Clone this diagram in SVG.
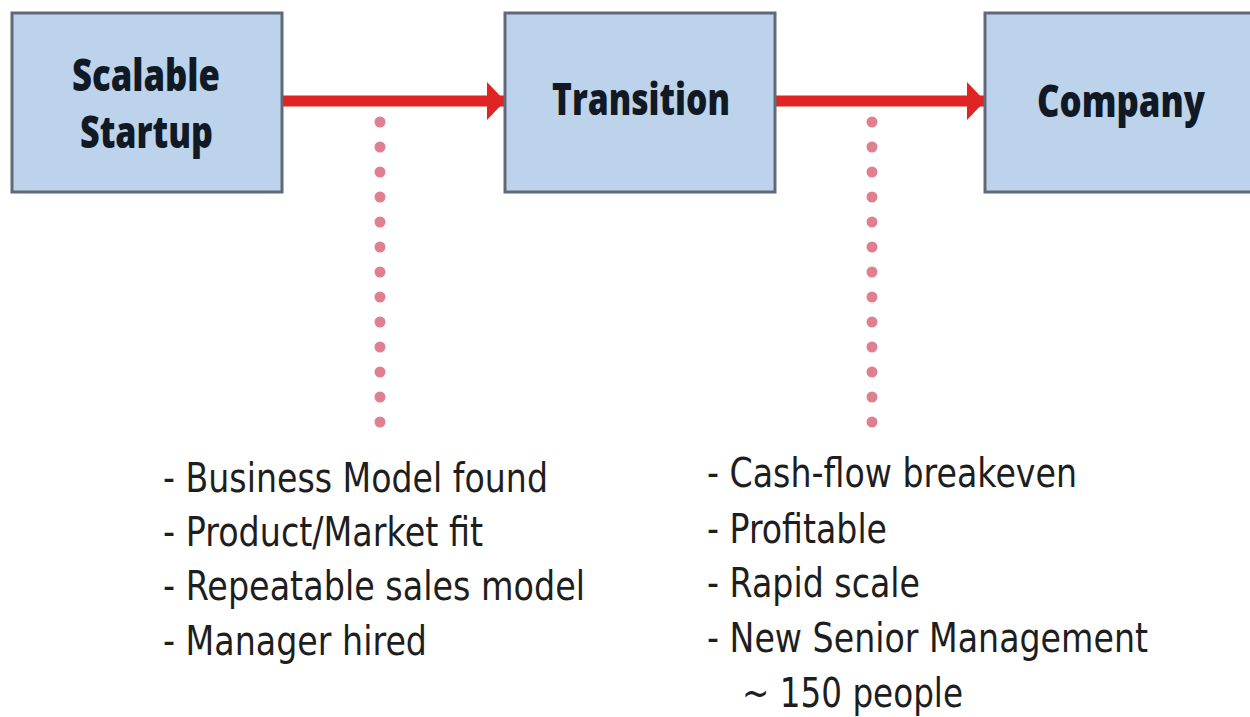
<svg xmlns="http://www.w3.org/2000/svg" width="1250" height="717" viewBox="0 0 1250 717">
<style>
.box{fill:#bdd3ec;stroke:#5e6a78;stroke-width:3}
.lbl{font-family:"Open Sans","Liberation Sans",sans-serif;font-weight:800;font-size:44px;fill:#111a24}
.bul{font-family:"DejaVu Sans","Liberation Sans",sans-serif;font-size:41px;fill:#1e1e1e}
.arr{stroke:#e02323;stroke-width:11;fill:none}
.dot{stroke:#e07f90;stroke-width:11;stroke-linecap:round;stroke-dasharray:0 25;fill:none}
</style>
<defs>
<marker id="ah" markerUnits="userSpaceOnUse" markerWidth="20" markerHeight="40" refX="18" refY="20" orient="auto">
<path d="M0,1 L18,20 L0,39 Z" fill="#e02323"/>
</marker>
</defs>
<rect width="1250" height="717" fill="#ffffff"/>
<g id="connectors">
<line class="arr" x1="282" y1="101" x2="505" y2="101" marker-end="url(#ah)"/>
<line class="arr" x1="776" y1="101" x2="985" y2="101" marker-end="url(#ah)"/>
<line class="dot" x1="380" y1="122" x2="380" y2="425"/>
<line class="dot" x1="872" y1="122" x2="872" y2="425"/>
</g>
<g id="node-startup">
<rect class="box" x="12" y="13" width="270" height="179"/>
<text class="lbl" x="72" y="91" textLength="148" lengthAdjust="spacingAndGlyphs">Scalable</text>
<text class="lbl" x="80" y="148" textLength="133" lengthAdjust="spacingAndGlyphs">Startup</text>
</g>
<g id="node-transition">
<rect class="box" x="505" y="13" width="270" height="179"/>
<text class="lbl" x="552" y="115" textLength="178" lengthAdjust="spacingAndGlyphs">Transition</text>
</g>
<g id="node-company">
<rect class="box" x="985" y="13" width="275" height="179"/>
<text class="lbl" x="1037" y="117" textLength="168" lengthAdjust="spacingAndGlyphs">Company</text>
</g>
<g id="notes-left">
<text class="bul" x="163" y="492" textLength="385" lengthAdjust="spacingAndGlyphs">- Business Model found</text>
<text class="bul" x="163" y="546" textLength="320" lengthAdjust="spacingAndGlyphs">- Product/Market fit</text>
<text class="bul" x="163" y="600" textLength="422" lengthAdjust="spacingAndGlyphs">- Repeatable sales model</text>
<text class="bul" x="163" y="655" textLength="264" lengthAdjust="spacingAndGlyphs">- Manager hired</text>
</g>
<g id="notes-right">
<text class="bul" x="707" y="487" textLength="370" lengthAdjust="spacingAndGlyphs">- Cash-flow breakeven</text>
<text class="bul" x="707" y="543" textLength="180" lengthAdjust="spacingAndGlyphs">- Profitable</text>
<text class="bul" x="707" y="597" textLength="213" lengthAdjust="spacingAndGlyphs">- Rapid scale</text>
<text class="bul" x="707" y="652" textLength="441" lengthAdjust="spacingAndGlyphs">- New Senior Management</text>
<text class="bul" x="742" y="707" textLength="221" lengthAdjust="spacingAndGlyphs">~ 150 people</text>
</g>
</svg>
